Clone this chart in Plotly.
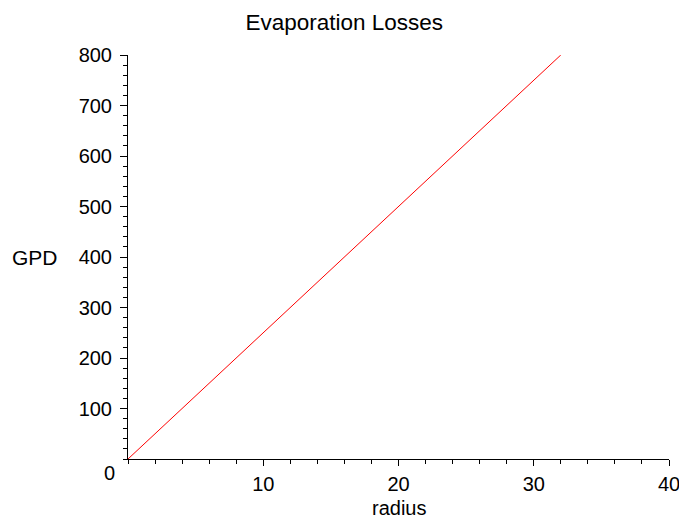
import plotly.graph_objects as go

# Evaporation losses (gallons per day) against pond radius
radius = [0, 32]
gpd = [0, 800]

x_ticks = [10, 20, 30, 40]
y_ticks = [100, 200, 300, 400, 500, 600, 700, 800]

FONT = "Liberation Sans, Arial, sans-serif"

fig = go.Figure()
fig.add_trace(go.Scatter(
    x=radius, y=gpd, mode="lines",
    line=dict(color="#ff0000", width=1),
    hoverinfo="skip", showlegend=False,
))

axis_common = dict(
    showgrid=False, zeroline=False,
    showline=True, linecolor="black", linewidth=1,
    ticks="outside", tickcolor="black", tickwidth=1,
    tickfont=dict(family=FONT, size=20, color="black"),
    ticklabeloverflow="allow", automargin=False,
)

fig.update_xaxes(
    range=[0, 40], tickvals=x_ticks, ticklen=6,
    minor=dict(dtick=2, ticks="outside", ticklen=4, tickcolor="black", tickwidth=1, showgrid=False),
    ticklabelstandoff=1,
    **axis_common,
)
fig.update_yaxes(
    range=[0, 800], tickvals=y_ticks, ticklen=7,
    minor=dict(dtick=20, ticks="outside", ticklen=4, tickcolor="black", tickwidth=1, showgrid=False),
    ticklabelstandoff=4,
    **axis_common,
)

# origin label, set below-left of the corner
fig.add_annotation(x=0, y=0, xref="x", yref="y", text="0", showarrow=False,
                   xanchor="right", yanchor="top", xshift=-11, yshift=-1,
                   font=dict(family=FONT, size=20, color="black"))
# horizontal y-axis label
fig.add_annotation(x=-0.218, y=0.5, xref="paper", yref="paper", text="GPD", showarrow=False,
                   xanchor="left", yanchor="middle",
                   font=dict(family=FONT, size=21, color="black"))
# x-axis label, resting on the bottom edge
fig.add_annotation(x=0.5, y=0, xref="paper", yref="paper", text="radius", showarrow=False,
                   xanchor="center", yanchor="bottom", yshift=-61, borderpad=0,
                   font=dict(family=FONT, size=20, color="black"))

fig.update_layout(
    width=679, height=520,
    margin=dict(l=128, r=10, t=55, b=61, autoexpand=False),
    paper_bgcolor="white", plot_bgcolor="white",
    title=dict(text="Evaporation Losses", x=0.507, xanchor="center", y=0.958, yanchor="middle",
               font=dict(family=FONT, size=22.5, color="black")),
)

fig.write_html("out.html")
